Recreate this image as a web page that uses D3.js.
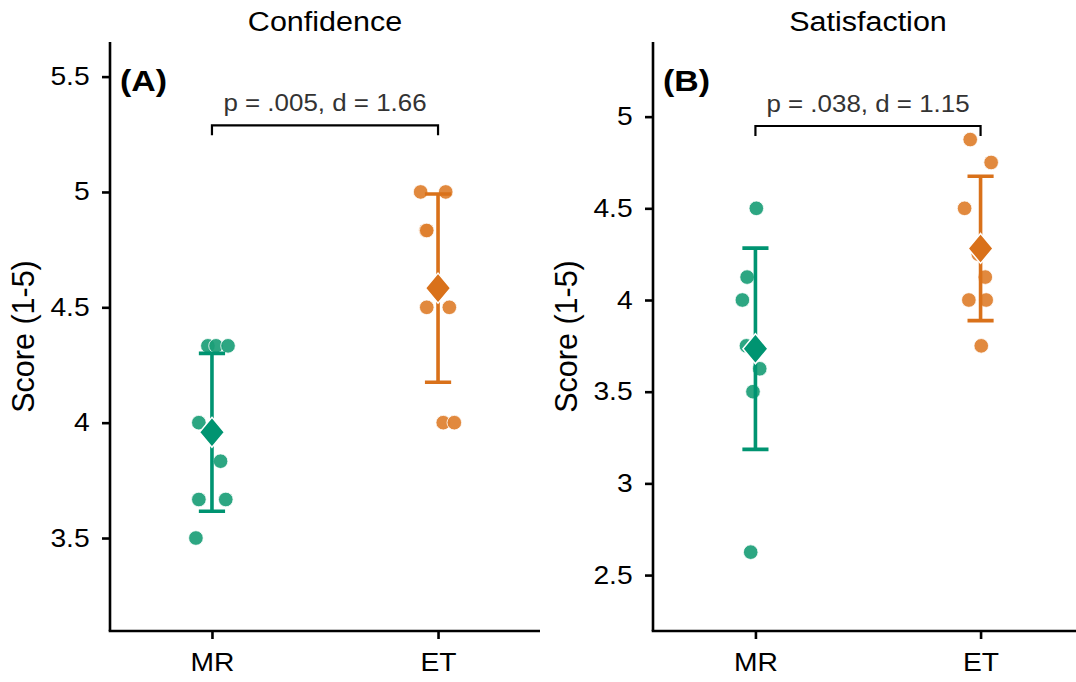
<!DOCTYPE html>
<html>
<head>
<meta charset="utf-8">
<script src="https://cdn.jsdelivr.net/npm/d3@7"></script>
<style>
  html, body { margin: 0; padding: 0; background: #fff; }
  svg { display: block; }
  text { font-family: "Liberation Sans", Arial, Helvetica, sans-serif; }
</style>
</head>
<body>
<svg id="chart" width="1076" height="682"></svg>
<script>
// ---------------- data ----------------
const groups = ["MR", "ET"];
const panelTitles = ["Confidence", "Satisfaction"];
const panelTags = ["(A)", "(B)"];
const yLabel = "Score (1-5)";

const confMR = [4.333, 4.333, 4.333, 4.0, 3.833, 3.667, 3.667, 3.5];
const confMRJitter = [-0.018, 0.018, 0.071, -0.058, 0.038, -0.058, 0.061, -0.071];
const confET = [5.0, 5.0, 4.833, 4.833, 4.5, 4.5, 4.0, 4.0];
const confETJitter = [-0.077, 0.034, -0.053, -0.050, -0.050, 0.050, 0.023, 0.072];

const satMR = [4.5, 4.125, 4.0, 3.75, 3.75, 3.625, 3.5, 2.625];
const satMRJitter = [0.004, -0.037, -0.058, -0.040, 0.0, 0.019, -0.011, -0.021];
const satET = [4.875, 4.75, 4.5, 4.25, 4.125, 4.0, 4.0, 3.75];
const satETJitter = [-0.046, 0.047, -0.071, -0.010, 0.021, -0.052, 0.025, 0.003];

const confTicks = [3.5, 4, 4.5, 5, 5.5];
const satTicks = [2.5, 3, 3.5, 4, 4.5, 5];
const confDomain = [3.097, 5.65];
const satDomain = [2.195, 5.407];

const statLabels = ["p = .005, d = 1.66", "p = .038, d = 1.15"];
const bracketY = [5.289, 4.949];
const bracketTip = [5.246, 4.894];

// ---------------- styling ----------------
const pointColors = ["#1B9E77", "#DE7F2E"];
const meanColors = ["#009471", "#D9711A"];
const SX = 1.13; // horizontal text stretch seen in the reference

const svg = d3.select("#chart");

function stretchedText(sel, x, y, sx) {
  return sel.append("text")
    .attr("transform", `translate(${x},${y}) scale(${sx},1)`);
}

const panels = [
  { left: 110, right: 540, title: panelTitles[0], tag: panelTags[0],
    data: [[confMR, confMRJitter], [confET, confETJitter]],
    domain: confDomain, ticks: confTicks, stat: statLabels[0], bY: bracketY[0], bT: bracketTip[0],
    xDomain: [0.549, 2.451], titleX: 325 },
  { left: 653, right: 1083, title: panelTitles[1], tag: panelTags[1],
    data: [[satMR, satMRJitter], [satET, satETJitter]],
    domain: satDomain, ticks: satTicks, stat: statLabels[1], bY: bracketY[1], bT: bracketTip[1],
    xDomain: [0.545, 2.455], titleX: 868 }
];

const plotTop = 42, plotBottom = 631;

panels.forEach((p, pi) => {
  const g = svg.append("g");
  const x = d3.scaleLinear().domain(p.xDomain).range([p.left, p.right]);
  const y = d3.scaleLinear().domain(p.domain).range([plotBottom, plotTop]);

  // title
  stretchedText(g, p.titleX, 31, SX)
    .attr("text-anchor", "middle")
    .attr("font-size", 27)
    .attr("fill", "#000")
    .text(p.title);

  // y axis
  const yAxis = d3.axisLeft(y).tickValues(p.ticks).tickSize(8).tickPadding(10)
    .tickFormat(d => String(d));
  const ya = g.append("g").attr("transform", `translate(${p.left},0)`).call(yAxis);
  ya.select(".domain").attr("d", `M0,${plotTop}V${plotBottom}`).attr("stroke", "#000").attr("stroke-width", 2.6);
  ya.selectAll(".tick line").attr("stroke", "#000").attr("stroke-width", 2.6);
  ya.selectAll(".tick text").attr("font-size", 25).attr("fill", "#000")
    .attr("font-family", '"Liberation Sans", Arial, sans-serif')
    .attr("transform", `scale(${SX},1)`);

  // x axis
  const xAxis = d3.axisBottom(x).tickValues([1, 2]).tickSize(8).tickPadding(14)
    .tickFormat(d => groups[d - 1]);
  const xa = g.append("g").attr("transform", `translate(0,${plotBottom})`).call(xAxis);
  xa.select(".domain").attr("d", `M${p.left - 1.3},0H${p.right}`).attr("stroke", "#000").attr("stroke-width", 2.6);
  xa.selectAll(".tick line").attr("stroke", "#000").attr("stroke-width", 2.6);
  xa.selectAll(".tick text").attr("font-size", 25).attr("fill", "#000")
    .attr("font-family", '"Liberation Sans", Arial, sans-serif')
    .attr("transform", `scale(${SX},1)`);

  // y axis title
  g.append("text")
    .attr("transform", `translate(${p.left - 76},${(plotTop + plotBottom) / 2}) rotate(-90)`)
    .attr("text-anchor", "middle")
    .attr("font-size", 30.5)
    .attr("fill", "#000")
    .text(yLabel);

  // panel tag
  stretchedText(g, p.left + 10, 91, SX)
    .attr("font-size", 30)
    .attr("font-weight", "bold")
    .attr("fill", "#000")
    .text(p.tag);

  // bracket
  g.append("path")
    .attr("d", `M${x(1)},${y(p.bT)}V${y(p.bY)}H${x(2)}V${y(p.bT)}`)
    .attr("fill", "none").attr("stroke", "#000").attr("stroke-width", 2.2);
  stretchedText(g, (x(1) + x(2)) / 2, y(p.bY) - 14, 1.08)
    .attr("text-anchor", "middle")
    .attr("font-size", 24)
    .attr("fill", "#333")
    .text(p.stat);

  // points
  p.data.forEach(([vals, jit], gi) => {
    g.append("g").selectAll("circle")
      .data(vals.map((v, i) => ({ v, j: jit[i] })))
      .join("circle")
      .attr("cx", d => x(gi + 1 + d.j))
      .attr("cy", d => y(d.v))
      .attr("r", 7.3)
      .attr("fill", pointColors[gi])
      .attr("fill-opacity", 0.92)
      .attr("stroke", "#fff")
      .attr("stroke-width", 0.8);
  });

  // error bars + means
  p.data.forEach(([vals], gi) => {
    const m = d3.mean(vals);
    const sd = d3.deviation(vals);
    const cx = x(gi + 1);
    const capW = x(gi + 1 + 0.058) - cx;
    g.append("path")
      .attr("d", `M${cx},${y(m + sd)}V${y(m - sd)}M${cx - capW},${y(m + sd)}H${cx + capW}M${cx - capW},${y(m - sd)}H${cx + capW}`)
      .attr("fill", "none")
      .attr("stroke", meanColors[gi])
      .attr("stroke-width", 3.6);
    const cy = y(m);
    g.append("path")
      .attr("d", `M${cx},${cy - 15}L${cx + 12.5},${cy}L${cx},${cy + 15}L${cx - 12.5},${cy}Z`)
      .attr("fill", meanColors[gi])
      .attr("stroke", "#fff")
      .attr("stroke-width", 1.5);
  });
});
</script>
</body>
</html>
